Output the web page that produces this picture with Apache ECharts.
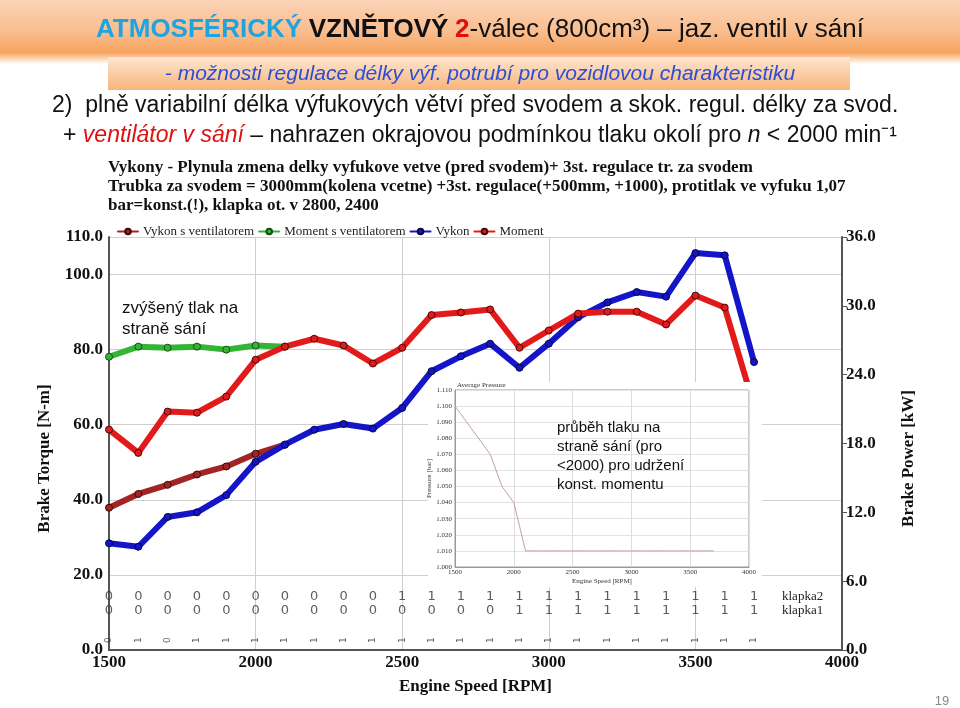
<!DOCTYPE html>
<html>
<head>
<meta charset="utf-8">
<script src="https://cdn.jsdelivr.net/npm/echarts@6/dist/echarts.min.js"></script>
<style>
html, body { margin: 0; padding: 0; background: #fff; }
#chart { width: 960px; height: 708px; }
</style>
</head>
<body>
<div id="chart"></div>
<script>
// data

const rpm = [1500, 1600, 1700, 1800, 1900, 2000, 2100, 2200, 2300, 2400, 2500, 2600,
    2700, 2800, 2900, 3000, 3100, 3200, 3300, 3400, 3500, 3600, 3700];

// with intake fan (only below 2100 rpm)
const rpmVent = [1500, 1600, 1700, 1800, 1900, 2000, 2100];
const vykonVent = [12.4, 13.6, 14.4, 15.3, 16.0, 17.1, 17.9];
const momentVent = [78.1, 80.8, 80.5, 80.8, 80.0, 81.1, 80.8];

const vykon = [9.3, 9.0, 11.6, 12.0, 13.5, 16.4, 17.9, 19.2, 19.7, 19.3, 21.1, 24.3,
    25.6, 26.7, 24.6, 26.7, 29.0, 30.3, 31.2, 30.8, 34.6, 34.4, 25.1];
const moment = [58.7, 52.5, 63.5, 63.2, 67.5, 77.3, 80.8, 82.9, 81.1, 76.3, 80.5, 89.2,
    89.9, 90.7, 80.5, 85.1, 89.6, 90.1, 90.1, 86.7, 94.4, 91.2, 65.0];

// flap states
const klapka2 = [0, 0, 0, 0, 0, 0, 0, 0, 0, 0, 1, 1, 1, 1, 1, 1, 1, 1, 1, 1, 1, 1, 1];
const klapka1 = [0, 0, 0, 0, 0, 0, 0, 0, 0, 0, 0, 0, 0, 0, 1, 1, 1, 1, 1, 1, 1, 1, 1];
const flagRow3 = [0, 1, 0, 1, 1, 1, 1, 1, 1, 1, 1, 1, 1, 1, 1, 1, 1, 1, 1, 1, 1, 1, 1];

// inset: average intake pressure
const pressure = [1.100, 1.090, 1.080, 1.070, 1.050, 1.040, 1.010, 1.010, 1.010, 1.010, 1.010, 1.010,
    1.010, 1.010, 1.010, 1.010, 1.010, 1.010, 1.010, 1.010, 1.010, 1.010, 1.010];

const xTicks = { min: 1500, max: 4000, step: 500 };
const torqueTicks = { min: 0, max: 110, step: 20 };
const powerTicks = { min: 0, max: 36, step: 6 };
const pressureTicks = { min: 1.0, max: 1.11, step: 0.01 };

// fonts
const SERIF = "'Liberation Serif', 'Times New Roman', serif";
const NARROW = "'Liberation Sans Narrow', 'Arial Narrow', 'Liberation Sans', sans-serif";
const SANS = "'Liberation Sans', Arial, sans-serif";

const chart = echarts.init(document.getElementById("chart"), null, { renderer: "canvas" });

function zip(xs, ys)
{
    return xs.map((x, i) => [x, ys[i]]);
}

function flagRow(flags, rowY)
{
    return rpm.map((r, i) => [r, rowY, flags[i]]);
}

function lineSeries(name, color, border, xs, ys, yIdx)
{
    return {
        name: name,
        type: "line",
        xAxisIndex: 0,
        yAxisIndex: yIdx,
        data: zip(xs, ys),
        symbol: "circle",
        symbolSize: 7,
        lineStyle: { color: color, width: 6, cap: "round", join: "round" },
        itemStyle: { color: color, borderColor: border, borderWidth: 1 },
        emphasis: { disabled: true },
        animation: false
    };
}

function flagSeries(flags, rowY, lblOpts)
{
    return {
        type: "scatter",
        xAxisIndex: 0,
        yAxisIndex: 0,
        symbolSize: 0,
        data: flagRow(flags, rowY),
        label: Object.assign({
            show: true,
            position: "inside",
            formatter: (p) => String(p.value[2]),
            color: "#333",
            fontFamily: "'DejaVu Sans', sans-serif",
            fontSize: 13
        }, lblOpts || {}),
        silent: true,
        animation: false
    };
}

const plain = (v) => String(v);

const option = {
    backgroundColor: "#fff",
    animation: false,
    legend: {
        data: ["Vykon s ventilatorem", "Moment s ventilatorem", "Vykon", "Moment"],
        left: 112,
        top: 220,
        itemWidth: 20,
        itemHeight: 7,
        itemGap: 4,
        textStyle: { fontFamily: SERIF, fontSize: 13, color: "#222" }
    },
    grid: [
        { left: 109, right: 118, top: 237, bottom: 58 },
        { left: 455, top: 390, width: 294, height: 177, z: 6, show: true, backgroundColor: "#fff", borderColor: "#999", borderWidth: 1 }
    ],
    xAxis: [
        {
            gridIndex: 0,
            type: "value",
            min: xTicks.min, max: xTicks.max, interval: xTicks.step,
            name: "Engine Speed [RPM]",
            nameLocation: "middle",
            nameGap: 28,
            nameTextStyle: { fontFamily: SERIF, fontWeight: "bold", fontSize: 17, color: "#111" },
            axisLine: { lineStyle: { color: "#555", width: 2 } },
            axisTick: { show: false },
            axisLabel: { fontFamily: SERIF, fontWeight: "bold", fontSize: 17, color: "#111", margin: 4, formatter: plain },
            splitLine: { show: true, lineStyle: { color: "#cfcfcf" } }
        },
        {
            gridIndex: 1,
            type: "value",
            z: 6,
            min: xTicks.min, max: xTicks.max, interval: xTicks.step,
            name: "Engine Speed [RPM]",
            nameLocation: "middle",
            nameGap: 11,
            nameTextStyle: { fontFamily: SERIF, fontSize: 7, color: "#333" },
            axisLine: { lineStyle: { color: "#999" } },
            axisTick: { show: false },
            axisLabel: { fontFamily: SERIF, fontSize: 7, color: "#333", margin: 2, formatter: plain },
            splitLine: { show: true, lineStyle: { color: "#dcdcdc" } }
        }
    ],
    yAxis: [
        {
            gridIndex: 0,
            type: "value",
            min: torqueTicks.min, max: torqueTicks.max, interval: torqueTicks.step,
            name: "Brake Torque [N-m]",
            nameLocation: "middle",
            nameRotate: 90,
            nameGap: 56,
            nameTextStyle: { fontFamily: SERIF, fontWeight: "bold", fontSize: 17, color: "#111", padding: [0, 30, 0, 0] },
            axisLine: { show: true, lineStyle: { color: "#555", width: 2 } },
            axisTick: { show: false },
            axisLabel: { fontFamily: SERIF, fontWeight: "bold", fontSize: 17, color: "#111", margin: 6,
                formatter: (v) => v.toFixed(1) },
            splitLine: { show: true, lineStyle: { color: "#cfcfcf" } }
        },
        {
            gridIndex: 0,
            type: "value",
            position: "right",
            min: powerTicks.min, max: powerTicks.max, interval: powerTicks.step,
            name: "Brake Power [kW]",
            nameLocation: "middle",
            nameRotate: 90,
            nameGap: 58,
            nameTextStyle: { fontFamily: SERIF, fontWeight: "bold", fontSize: 17, color: "#111", padding: [0, 30, 0, 0] },
            axisLine: { show: true, lineStyle: { color: "#555", width: 2 } },
            axisTick: { show: true, length: 5, lineStyle: { color: "#555" } },
            axisLabel: { fontFamily: SERIF, fontWeight: "bold", fontSize: 17, color: "#111", margin: 4,
                formatter: (v) => v.toFixed(1) },
            splitLine: { show: false }
        },
        {
            gridIndex: 1,
            type: "value",
            z: 6,
            min: pressureTicks.min, max: pressureTicks.max, interval: pressureTicks.step,
            name: "Pressure [bar]",
            nameLocation: "middle",
            nameRotate: 90,
            nameGap: 22,
            nameTextStyle: { fontFamily: SERIF, fontSize: 7, color: "#333" },
            axisLine: { show: true, lineStyle: { color: "#999" } },
            axisTick: { show: false },
            axisLabel: { fontFamily: SERIF, fontSize: 7, color: "#333", margin: 3,
                formatter: (v) => v.toFixed(3) },
            splitLine: { show: true, lineStyle: { color: "#e2e2e2" } }
        }
    ],
    series: [
        lineSeries("Vykon s ventilatorem", "#a32424", "#3a0a0a", rpmVent, vykonVent, 1),
        lineSeries("Moment s ventilatorem", "#33b533", "#1c4a1c", rpmVent, momentVent, 0),
        lineSeries("Vykon", "#1414c8", "#060640", rpm, vykon, 1),
        lineSeries("Moment", "#e31a1a", "#4a0a0a", rpm, moment, 0),
        {
            type: "line",
            xAxisIndex: 1,
            yAxisIndex: 2,
            z: 7,
            data: zip(rpm, pressure),
            symbol: "none",
            lineStyle: { color: "#c4a0a0", width: 1 },
            silent: true,
            animation: false
        },
        flagSeries(klapka2, 14.1),
        flagSeries(klapka1, 10.4),
        flagSeries(flagRow3, 2.6, { rotate: 90, fontSize: 9 })
    ],
    graphic: [
        // header band
        {
            type: "rect", z: 0,
            shape: { x: 0, y: 0, width: 960, height: 64 },
            style: { fill: new echarts.graphic.LinearGradient(0, 0, 0, 1, [
                { offset: 0, color: "#fbd3b6" },
                { offset: 0.5, color: "#f9bd8e" },
                { offset: 0.82, color: "#f6a35f" },
                { offset: 1, color: "#ffffff" }
            ]) }
        },
        {
            type: "rect", z: 0,
            shape: { x: 108, y: 57, width: 742, height: 33 },
            style: { fill: new echarts.graphic.LinearGradient(0, 0, 0, 1, [
                { offset: 0, color: "#fde6d3" },
                { offset: 1, color: "#f8b479" }
            ]) }
        },
        {
            type: "text", z: 10, x: 480, y: 30,
            style: {
                text: "{a|ATMOSFÉRICKÝ}  {b|VZNĚTOVÝ}  {c|2}{d|-válec (800cm³) – jaz. ventil v sání}",
                align: "center", verticalAlign: "middle",
                rich: {
                    a: { fill: "#1ea4df", fontFamily: NARROW, fontWeight: "bold", fontSize: 26 },
                    b: { fill: "#111", fontFamily: NARROW, fontWeight: "bold", fontSize: 26 },
                    c: { fill: "#e01010", fontFamily: NARROW, fontWeight: "bold", fontSize: 26 },
                    d: { fill: "#111", fontFamily: NARROW, fontSize: 26 }
                }
            }
        },
        {
            type: "text", z: 10, x: 480, y: 74,
            style: {
                text: "- možnosti regulace délky výf. potrubí pro vozidlovou charakteristiku",
                align: "center", verticalAlign: "middle",
                fill: "#2a4fd6", fontFamily: NARROW, fontStyle: "italic", fontSize: 21
            }
        },
        {
            type: "text", z: 10, x: 52, y: 106,
            style: {
                text: "2)  plně variabilní délka výfukových větví před svodem a skok. regul. délky za svod.",
                align: "left", verticalAlign: "middle",
                fill: "#111", fontFamily: NARROW, fontSize: 23
            }
        },
        {
            type: "text", z: 10, x: 480, y: 136,
            style: {
                text: "{n|+ }{r|ventilátor v sání}{n| – nahrazen okrajovou podmínkou tlaku okolí pro }{i|n}{n| < 2000 min⁻¹}",
                align: "center", verticalAlign: "middle",
                rich: {
                    n: { fill: "#111", fontFamily: NARROW, fontSize: 23 },
                    r: { fill: "#e01010", fontFamily: NARROW, fontStyle: "italic", fontSize: 23 },
                    i: { fill: "#111", fontFamily: NARROW, fontStyle: "italic", fontSize: 23 }
                }
            }
        },
        // chart caption
        {
            type: "text", z: 10, x: 108, y: 168,
            style: {
                text: "Vykony - Plynula zmena delky vyfukove vetve (pred svodem)+ 3st. regulace tr. za svodem",
                align: "left", verticalAlign: "middle",
                fill: "#111", fontFamily: SERIF, fontWeight: "bold", fontSize: 17
            }
        },
        {
            type: "text", z: 10, x: 108, y: 187,
            style: {
                text: "Trubka za svodem = 3000mm(kolena vcetne) +3st. regulace(+500mm, +1000), protitlak ve vyfuku 1,07",
                align: "left", verticalAlign: "middle",
                fill: "#111", fontFamily: SERIF, fontWeight: "bold", fontSize: 17
            }
        },
        {
            type: "text", z: 10, x: 108, y: 206,
            style: {
                text: "bar=konst.(!), klapka ot. v 2800, 2400",
                align: "left", verticalAlign: "middle",
                fill: "#111", fontFamily: SERIF, fontWeight: "bold", fontSize: 17
            }
        },
        // inset background
        {
            type: "rect", z: 5,
            shape: { x: 428, y: 382, width: 334, height: 205 },
            style: { fill: "#fff" }
        },
        {
            type: "text", z: 10, x: 457, y: 385,
            style: {
                text: "Average Pressure",
                align: "left", verticalAlign: "middle",
                fill: "#333", fontFamily: SERIF, fontSize: 7
            }
        },
        // notes
        {
            type: "text", z: 10, x: 122, y: 319,
            style: {
                text: "zvýšený tlak na\nstraně sání",
                align: "left", verticalAlign: "middle", lineHeight: 21,
                fill: "#111", fontFamily: SANS, fontSize: 17
            }
        },
        {
            type: "text", z: 10, x: 557, y: 456,
            style: {
                text: "průběh tlaku na\nstraně sání (pro\n<2000) pro udržení\nkonst. momentu",
                align: "left", verticalAlign: "middle", lineHeight: 19,
                fill: "#111", fontFamily: SANS, fontSize: 15
            }
        },
        {
            type: "text", z: 10, x: 782, y: 597,
            style: { text: "klapka2", align: "left", verticalAlign: "middle",
                fill: "#222", fontFamily: SERIF, fontSize: 13 }
        },
        {
            type: "text", z: 10, x: 782, y: 611,
            style: { text: "klapka1", align: "left", verticalAlign: "middle",
                fill: "#222", fontFamily: SERIF, fontSize: 13 }
        },
        {
            type: "text", z: 10, x: 942, y: 701,
            style: { text: "19", align: "center", verticalAlign: "middle",
                fill: "#888", fontFamily: SANS, fontSize: 13 }
        }
    ]
};

chart.setOption(option);
</script>
</body>
</html>
